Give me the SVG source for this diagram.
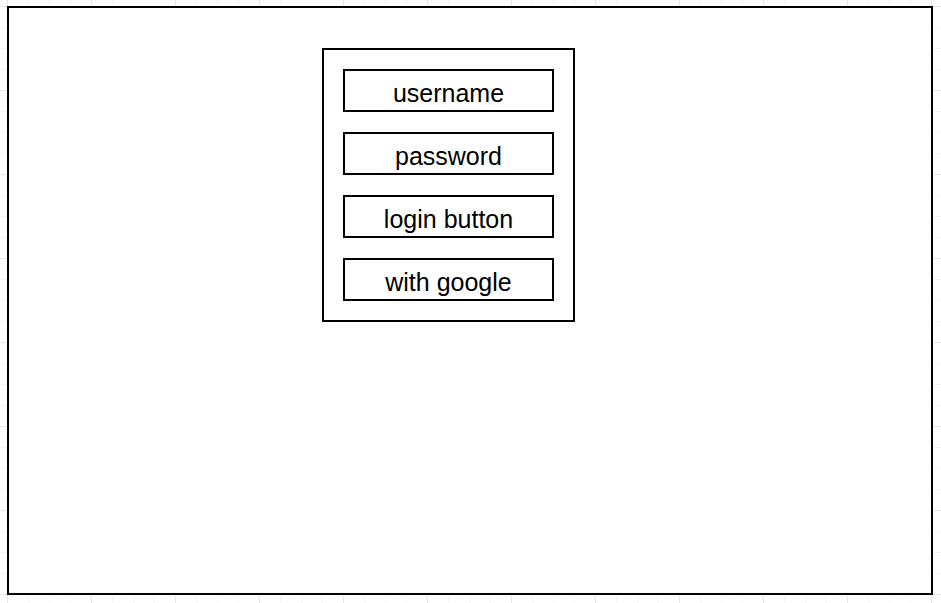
<svg xmlns="http://www.w3.org/2000/svg" width="941" height="603" viewBox="0 0 941 603">
<defs>
<pattern id="minor" x="7" y="6" width="21" height="21" patternUnits="userSpaceOnUse">
<path d="M0 0 V21 M0 0 H21" fill="none" stroke="#ebebeb" stroke-width="1"/>
</pattern>
<pattern id="major" x="7" y="6" width="84" height="84" patternUnits="userSpaceOnUse">
<path d="M0 0 V84 M0 0 H84" fill="none" stroke="#d9d9d9" stroke-width="1"/>
</pattern>
</defs>
<style>
.box{fill:#fff;stroke:#000;stroke-width:2}
.lbl{font-family:"Liberation Sans",Arial,sans-serif;font-size:25px;fill:#000;text-anchor:middle}
</style>
<rect width="941" height="603" fill="#fff"/>
<rect width="941" height="603" fill="url(#minor)"/>
<rect width="941" height="603" fill="url(#major)"/>
<g id="screen"><rect class="box" x="8" y="7" width="924" height="587"/></g>
<g id="login-panel"><rect class="box" x="323" y="49" width="251" height="272"/></g>
<g id="username"><rect class="box" x="344" y="70" width="209" height="41"/><text class="lbl" x="448.5" y="102">username</text></g>
<g id="password"><rect class="box" x="344" y="133" width="209" height="41"/><text class="lbl" x="448.5" y="165">password</text></g>
<g id="login-button"><rect class="box" x="344" y="196" width="209" height="41"/><text class="lbl" x="448.5" y="228">login button</text></g>
<g id="with-google"><rect class="box" x="344" y="259" width="209" height="41"/><text class="lbl" x="448.5" y="291">with google</text></g>
<g id="connectors"></g>
</svg>
